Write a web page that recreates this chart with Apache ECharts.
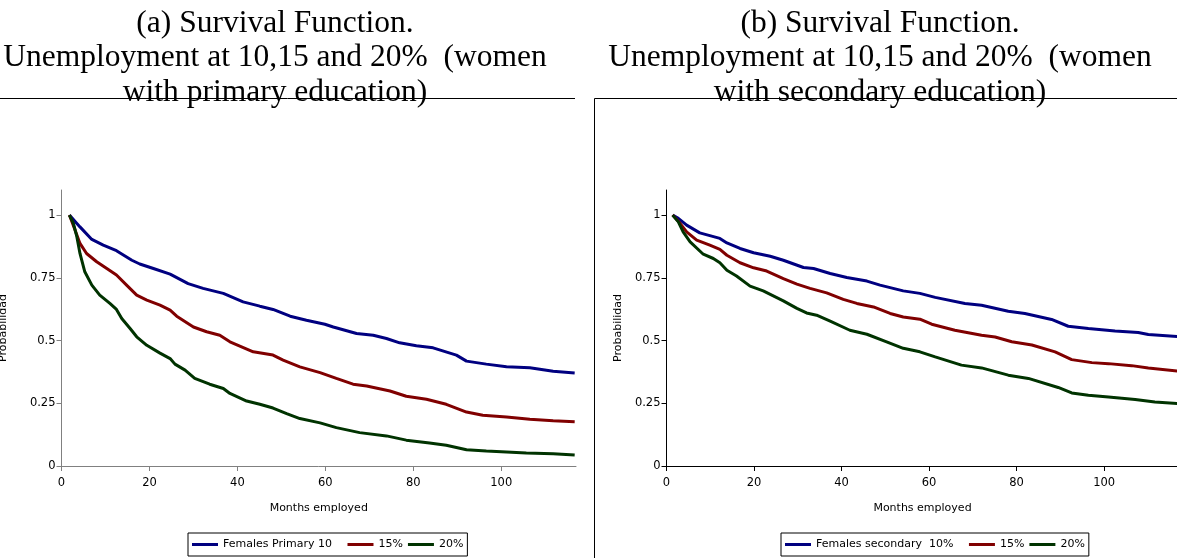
<!DOCTYPE html>
<html>
<head>
<meta charset="utf-8">
<script src="https://cdn.jsdelivr.net/npm/echarts@6/dist/echarts.min.js"></script>
<style>
  html, body { margin: 0; padding: 0; background: #fff; }
  #chart { width: 1177px; height: 558px; }
</style>
</head>
<body>
<div id="chart"></div>
<script>
// Survival curves: [months employed, probability still employed]
const primary10 = [[1.8,1],[4.2,0.953],[6.9,0.903],[9.5,0.88],[12.5,0.858],[16,0.82],[17.8,0.805],[20.9,0.787],[24.7,0.765],[28.8,0.727],[32.2,0.708],[36.8,0.688],[41.3,0.654],[45.1,0.637],[48.1,0.624],[52,0.597],[55.7,0.581],[59.9,0.565],[61.8,0.554],[67.1,0.528],[70.9,0.521],[73.9,0.508],[76.9,0.491],[80.7,0.479],[84.5,0.471],[89.8,0.442],[92.1,0.418],[96.6,0.406],[101.2,0.396],[106.5,0.392],[111.8,0.378],[116.7,0.371]];
const primary15 = [[1.8,1],[3.1,0.94],[4.2,0.887],[5.7,0.847],[8,0.814],[10.3,0.787],[12.5,0.761],[14.8,0.721],[17.1,0.681],[19.4,0.661],[22.4,0.641],[24.7,0.621],[26.2,0.597],[30,0.554],[33,0.535],[36,0.521],[38.3,0.495],[43.6,0.455],[48.1,0.442],[50.4,0.422],[54.2,0.395],[58.8,0.372],[62.5,0.349],[66.3,0.326],[69.4,0.319],[74.7,0.299],[78.4,0.278],[83,0.266],[87.5,0.246],[92.1,0.215],[95.8,0.202],[101.2,0.195],[106.5,0.186],[111.8,0.18],[116.7,0.176]];
const primary20 = [[1.8,1],[2.7,0.967],[3.5,0.913],[4.2,0.847],[5.3,0.774],[6.9,0.721],[8.7,0.681],[11,0.648],[12.5,0.624],[13.7,0.588],[15.6,0.548],[17.1,0.515],[19.4,0.481],[22.4,0.45],[24.7,0.428],[25.8,0.406],[28.1,0.382],[30.3,0.349],[33.7,0.326],[36.8,0.309],[38.3,0.289],[42.1,0.259],[45.1,0.246],[48.1,0.231],[51.2,0.209],[54.2,0.189],[58.8,0.172],[62.5,0.153],[67.8,0.133],[73.9,0.12],[78.4,0.103],[83.7,0.092],[87.5,0.083],[92.1,0.065],[96.6,0.06],[101.2,0.056],[105.7,0.052],[111.8,0.049],[116.7,0.044]];

const secondary10 = [[1.4,1],[2.7,0.987],[4.6,0.96],[7.6,0.929],[12.2,0.907],[13.8,0.889],[16.8,0.867],[19.9,0.85],[23.7,0.836],[26.7,0.82],[31.3,0.791],[33.6,0.787],[37.4,0.767],[41.2,0.751],[45.8,0.737],[48.8,0.721],[54.1,0.698],[57.9,0.688],[61.4,0.672],[68.2,0.648],[72,0.641],[78.1,0.617],[81.9,0.608],[88,0.584],[91.8,0.557],[96.4,0.548],[102.5,0.538],[107.8,0.532],[110.1,0.524],[116.7,0.516]];
const secondary15 = [[1.4,1],[3.1,0.967],[4.6,0.933],[6.9,0.9],[9.9,0.88],[12.2,0.863],[13.8,0.84],[16.8,0.81],[19.9,0.79],[22.9,0.777],[26.7,0.747],[29.8,0.725],[32.8,0.708],[36.6,0.69],[40.4,0.664],[43.5,0.648],[47.3,0.634],[51.1,0.608],[54.1,0.594],[57.9,0.585],[60.6,0.565],[65.9,0.541],[72,0.521],[75.1,0.514],[78.9,0.495],[83.5,0.482],[88.8,0.455],[92.6,0.424],[97.2,0.412],[101,0.408],[106.3,0.4],[110.1,0.391],[116.7,0.379]];
const secondary20 = [[1.4,1],[2.7,0.973],[3.8,0.933],[5.4,0.893],[8.4,0.844],[10.7,0.827],[12.2,0.81],[13.8,0.78],[16,0.757],[19.1,0.717],[22.1,0.698],[26.7,0.658],[29.8,0.628],[32,0.61],[34.3,0.601],[37.4,0.577],[41.9,0.541],[45.8,0.525],[50.3,0.495],[54.1,0.469],[57.9,0.455],[61.4,0.435],[67.4,0.402],[72,0.391],[78.1,0.362],[82.7,0.349],[89.5,0.313],[92.6,0.291],[96.4,0.282],[101,0.275],[107.1,0.265],[111.6,0.255],[116.7,0.249]];

// Axis ticks and labels
const monthTicks = [0, 20, 40, 60, 80, 100];
const probTicks = [0, 0.25, 0.5, 0.75, 1];

// Texts
const titleA = '(a) Survival Function.\nUnemployment at 10,15 and 20%  (women\nwith primary education)';
const titleB = '(b) Survival Function.\nUnemployment at 10,15 and 20%  (women\nwith secondary education)';
const namesA = ['Females Primary 10', '15%', '20%'];
const namesB = ['Females secondary  10%', '15%', '20%'];

const SANS = 'DejaVu Sans';
const SERIF = 'Liberation Serif';
const COLORS = ['#000080', '#800000', '#003300'];

function xAxisFor(gi, axisColor) {
  return {
    type: 'value', gridIndex: gi, min: 0, max: 117, interval: 20,
    axisLine: { lineStyle: { color: axisColor, width: 1 } },
    axisTick: { length: 5, customValues: monthTicks, lineStyle: { color: axisColor } },
    axisLabel: { customValues: monthTicks, fontFamily: SANS, fontSize: 11.5, color: '#000', margin: 11 },
    splitLine: { show: false },
    name: 'Months employed', nameLocation: 'middle', nameGap: 37,
    nameTextStyle: { fontFamily: SANS, fontSize: 11, color: '#000' }
  };
}
function yAxisFor(gi, axisColor, gap) {
  return {
    type: 'value', gridIndex: gi, min: 0, max: 1.1, interval: 0.25,
    axisLine: { show: true, lineStyle: { color: axisColor, width: 1 } },
    axisTick: { show: true, length: 5, customValues: probTicks, lineStyle: { color: axisColor } },
    axisLabel: { customValues: probTicks, fontFamily: SANS, fontSize: 11.5, color: '#000', margin: 6 },
    splitLine: { show: false },
    name: 'Probabilidad', nameLocation: 'middle', nameRotate: 90, nameGap: gap,
    nameTextStyle: { fontFamily: SANS, fontSize: 11, color: '#000' }
  };
}
function lineSeries(name, data, color, gi) {
  return {
    type: 'line', name, data, xAxisIndex: gi, yAxisIndex: gi,
    showSymbol: false, symbol: 'none', animation: false,
    lineStyle: { width: 3, color }, itemStyle: { color }
  };
}
// The first legend entry sits in a wider slot, so it gets trailing spaces
function legendFor(names, left) {
  return {
    data: names, left, top: 533, orient: 'horizontal',
    icon: 'rect', itemWidth: 26, itemHeight: 3, itemGap: 5,
    borderColor: '#000', borderWidth: 1, padding: [6, 4],
    selectedMode: false,
    formatter: n => (n === names[0] ? n + '   ' : n),
    textStyle: { fontFamily: SANS, fontSize: 11, color: '#000' }
  };
}

const titleStyle = { fontFamily: SERIF, fontSize: 31.5, fontWeight: 'normal', color: '#000', lineHeight: 34.5 };

const chart = echarts.init(document.getElementById('chart'), null, { renderer: 'canvas' });
chart.setOption({
  backgroundColor: '#fff',
  animation: false,
  title: [
    { text: titleA, left: 270, top: 1, textAlign: 'center', textStyle: titleStyle },
    { text: titleB, left: 875, top: 1, textAlign: 'center', textStyle: titleStyle }
  ],
  grid: [
    { left: 61.5, top: 190, width: 514.5, height: 276, outerBoundsMode: 'none' },
    { left: 666.5, top: 190, width: 512, height: 276, outerBoundsMode: 'none' }
  ],
  xAxis: [xAxisFor(0, '#808080'), xAxisFor(1, '#000')],
  yAxis: [yAxisFor(0, '#808080', 53), yAxisFor(1, '#000', 43)],
  legend: [legendFor(namesA, 188), legendFor(namesB, 781)],
  series: [
    lineSeries(namesA[0], primary10, COLORS[0], 0),
    lineSeries(namesA[1], primary15, COLORS[1], 0),
    lineSeries(namesA[2], primary20, COLORS[2], 0),
    lineSeries(namesB[0], secondary10, COLORS[0], 1),
    lineSeries(namesB[1], secondary15, COLORS[1], 1),
    lineSeries(namesB[2], secondary20, COLORS[2], 1)
  ],
  graphic: [
    { type: 'line', shape: { x1: 0, y1: 98.5, x2: 575, y2: 98.5 }, style: { stroke: '#000', lineWidth: 1 } },
    { type: 'polyline', shape: { points: [[594.5, 558], [594.5, 98.5], [1177, 98.5]] }, style: { stroke: '#000', lineWidth: 1, fill: null } }
  ]
});
</script>
</body>
</html>
